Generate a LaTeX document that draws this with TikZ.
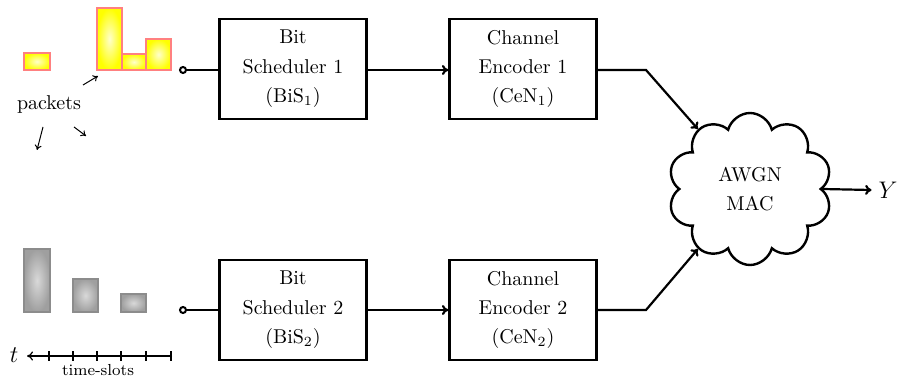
\documentclass[tikz,border=0pt]{standalone}
\usetikzlibrary{shapes.symbols,arrows.meta}
\definecolor{pktred}{RGB}{255,128,128}
\begin{document}
\begin{tikzpicture}[x=0.5pt,y=-0.5pt,
  blk/.style={draw, line width=1.2pt, minimum width=73.5pt, minimum height=50pt,
    align=center, inner sep=0pt, font=\fontsize{10}{14.7}\selectfont},
  conn/.style={line width=1.1pt},
  arr/.style={conn, -{To[length=3.2pt,width=5pt]}},
  dot/.style={circle, draw, line width=1pt, fill=white, inner sep=0pt, minimum size=3pt},
  ypkt/.style={inner color=yellow!20, outer color=yellow, draw=pktred, line width=1.2pt},
  gpkt/.style={inner color=gray!30, outer color=gray!75, draw=black!45, line width=1.2pt},
  thinarr/.style={line width=0.5pt, -{To[length=2.5pt,width=3.5pt]}}]
\useasboundingbox (0,0) rectangle (903,379);

% yellow packets
\shadedraw[ypkt] (24,53) rectangle (50,70);
\shadedraw[ypkt] (97,8) rectangle (122,70);
\shadedraw[ypkt] (122,54) rectangle (146,70);
\shadedraw[ypkt] (146,39) rectangle (171,70);

\node[font=\fontsize{10}{12}\selectfont] (pk) at (49,105) {packets};
\coordinate (a1s) at (83,85); \coordinate (a1e) at (98,76);
\coordinate (a2s) at (43,127); \coordinate (a2e) at (37,150);
\coordinate (a3s) at (74,127); \coordinate (a3e) at (86,136);
\draw[thinarr] (a1s) -- (a1e);
\draw[thinarr] (a2s) -- (a2e);
\draw[thinarr] (a3s) -- (a3e);

% gray packets
\shadedraw[gpkt] (24,249) rectangle (50,312);
\shadedraw[gpkt] (73,279) rectangle (98,312);
\shadedraw[gpkt] (121,294) rectangle (146,312);

% time line
\coordinate (tend) at (172,356);
\coordinate (tstart) at (27,356);
\draw[line width=0.6pt, -{To[length=3pt,width=4.5pt]}] (tend) -- (tstart);
\foreach \x in {49,73,97,121,146,171} \draw[line width=1.3pt] (\x,351) -- (\x,361);
\node[font=\large] (t) at (14,355) {$t$};
\node[font=\footnotesize] (ts) at (98,370) {time-slots};

% blocks
\node[blk] (bis1) at (293,69) {Bit\\Scheduler 1\\(BiS$_1$)};
\node[blk] (cen1) at (523,69) {Channel\\Encoder 1\\(CeN$_1$)};
\node[blk] (bis2) at (293,310) {Bit\\Scheduler 2\\(BiS$_2$)};
\node[blk] (cen2) at (523,310) {Channel\\Encoder 2\\(CeN$_2$)};

\node[cloud, draw, line width=1.2pt, cloud puffs=10, cloud puff arc=150, cloud ignores aspect,
  minimum width=82pt, minimum height=76pt, align=center, inner sep=0pt,
  font=\fontsize{10}{14.7}\selectfont] (mac) at (750,189) {AWGN\\MAC};
\node[font=\large] (y) at (888,190) {$Y$};

\node[dot] (d1) at (183,70) {};
\node[dot] (d2) at (183,310) {};

\coordinate (k1) at (646,70);
\coordinate (k2) at (646,310);

\draw[conn] (d1) -- (d1 -| bis1.west);
\draw[conn] (d2) -- (d2 -| bis2.west);
\draw[arr] (bis1.east |- d1) -- (cen1.west |- d1);
\draw[arr] (bis2.east |- d2) -- (cen2.west |- d2);
\draw[arr] (cen1.east |- k1) -- (k1) -- (mac.131);
\draw[arr] (cen2.east |- k2) -- (k2) -- (mac.229);
\draw[arr] (mac.east) -- (y.west);
\end{tikzpicture}
\end{document}
